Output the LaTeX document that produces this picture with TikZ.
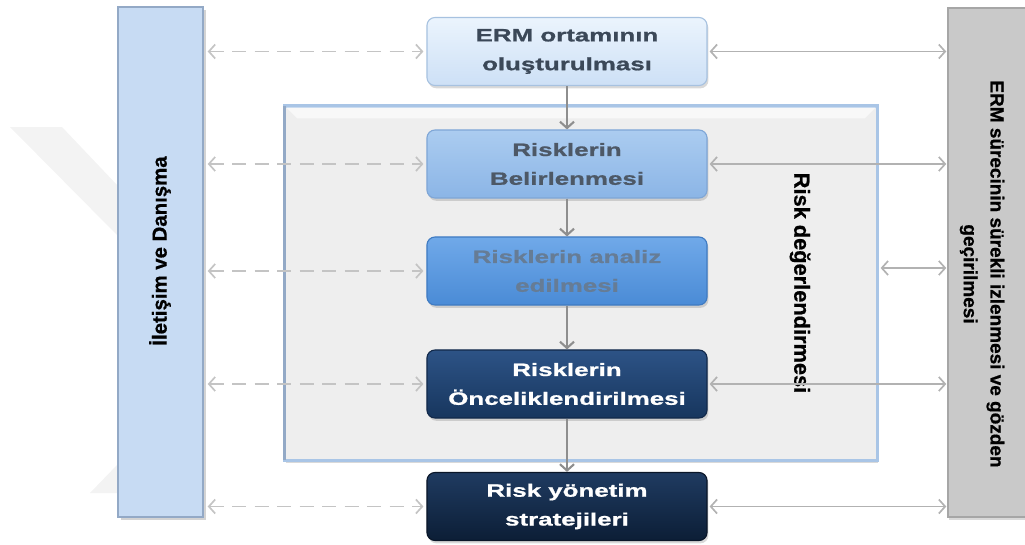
\documentclass[tikz,border=0pt]{standalone}
\usepackage{fontspec}
\setmainfont{Liberation Sans}
\newfontfamily\boxfont[FakeStretch=1.45, BoldFeatures={FakeBold=1}]{Liberation Sans}
\newfontfamily\sidefont[BoldFeatures={FakeBold=0.8}]{Liberation Sans}
\usetikzlibrary{arrows.meta,shadows,calc}
\definecolor{lbarfill}{HTML}{C7DBF3}
\definecolor{lbardraw}{HTML}{93A9C6}
\definecolor{rbarfill}{HTML}{C9C9C9}
\definecolor{rbardraw}{HTML}{A6A6A6}
\definecolor{framefill}{HTML}{EEEEEE}
\definecolor{framedraw}{HTML}{A9C5E6}
\definecolor{bAtop}{HTML}{EBF4FD}
\definecolor{bAbot}{HTML}{CDE0F6}
\definecolor{bAdraw}{HTML}{A7C2E0}
\definecolor{bAtext}{HTML}{3B4858}
\definecolor{bBtop}{HTML}{ABCCF0}
\definecolor{bBbot}{HTML}{8BB5E6}
\definecolor{bBdraw}{HTML}{7FA6D6}
\definecolor{bBtext}{HTML}{4D5866}
\definecolor{bCtop}{HTML}{70A9E9}
\definecolor{bCbot}{HTML}{4A8BD6}
\definecolor{bCdraw}{HTML}{3F7BC2}
\definecolor{bCtext}{HTML}{667C95}
\definecolor{bDtop}{HTML}{2D5386}
\definecolor{bDbot}{HTML}{17365E}
\definecolor{bDdraw}{HTML}{12294A}
\definecolor{bEtop}{HTML}{1F3B61}
\definecolor{bEbot}{HTML}{0C1E36}
\definecolor{bEdraw}{HTML}{0A1628}
\definecolor{dashgray}{HTML}{C4C4C4}
\definecolor{linegray}{HTML}{B2B2B2}
\definecolor{vgray}{HTML}{8E8E8E}
\definecolor{wmark}{HTML}{F3F3F3}
\tikzset{
  stepbox/.style={rounded corners=0.2cm, minimum width=7cm, minimum height=1.7cm,
    align=center, font=\boxfont\bfseries\fontsize{12.7}{20.5}\selectfont, line width=0.8pt,
    drop shadow={shadow xshift=1pt, shadow yshift=-2pt, opacity=0.3}},
  dasharr/.style={dashgray, line width=1.4pt, dash pattern=on 10pt off 6pt,
    {Straight Barb[length=4.5pt,width=10pt,line width=1.2pt]}-{Straight Barb[length=4.5pt,width=10pt,line width=1.2pt]}},
  solarr/.style={linegray, line width=1.2pt,
    {Straight Barb[length=4.5pt,width=10pt]}-{Straight Barb[length=4.5pt,width=10pt]}},
  varr/.style={vgray, line width=1.5pt, -{Straight Barb[length=4.5pt,width=10pt]}},
}
\begin{document}
\begin{tikzpicture}[x=0.025cm,y=-0.025cm]
\useasboundingbox (0,0) rectangle (1025,545);
\clip (0,0) rectangle (1025,545);
% faint watermark
\fill[wmark] (10,127) -- (62,127) -- (118,186) -- (118,236) -- cycle;
\fill[wmark] (90,493) -- (118,464) -- (118,493) -- cycle;
% side bars
\node[draw=lbardraw, fill=lbarfill, line width=1pt, minimum width=2.125cm, minimum height=12.75cm,
  drop shadow={shadow xshift=2pt, shadow yshift=-2pt, opacity=0.35}] (lbar) at (160.5,262) {};
\node[rotate=90, text=black, font=\sidefont\bfseries\fontsize{14.5}{17}\selectfont] (ltext) at (160,251) {İletişim ve Danışma};
\node[draw=rbardraw, fill=rbarfill, line width=1pt, minimum width=2.4cm, minimum height=12.725cm,
  drop shadow={shadow xshift=1pt, shadow yshift=-2pt, opacity=0.3}] (rbar) at (996,262.5) {};
\node[rotate=-90, align=center, text=black, font=\sidefont\bfseries\fontsize{13.5}{19}\selectfont] (rtext) at (982,274)
  {ERM sürecinin sürekli izlenmesi ve gözden\\geçirilmesi};
% risk assessment frame
\node[draw=framedraw, fill=framefill, line width=2.2pt, minimum width=14.8cm, minimum height=8.85cm,
  drop shadow={shadow xshift=1pt, shadow yshift=-2pt, opacity=0.3}] (frame) at (581,283) {};
\fill[white, opacity=0.6] ([shift={(3,3)}]frame.north west) -- ([shift={(-3,3)}]frame.north east)
  -- ([shift={(-14,14)}]frame.north east) -- ([shift={(14,14)}]frame.north west) -- cycle;
\draw[lbardraw, line width=2pt] ([shift={(1,2)}]frame.north west) -- ([shift={(1,-2)}]frame.south west);
\node[rotate=-90, text=black, font=\sidefont\bfseries\fontsize{15.5}{18}\selectfont] (rtitle) at (800,283) {Risk değerlendirmesi};
% step boxes
\node[stepbox, draw=bAdraw, top color=bAtop, bottom color=bAbot, text=bAtext] (b1) at (567,51.5) {ERM ortamının\\oluşturulması};
\node[stepbox, draw=bBdraw, top color=bBtop, bottom color=bBbot, text=bBtext] (b2) at (567,164) {Risklerin\\Belirlenmesi};
\node[stepbox, draw=bCdraw, top color=bCtop, bottom color=bCbot, text=bCtext] (b3) at (567,271) {Risklerin analiz\\edilmesi};
\node[stepbox, draw=bDdraw, top color=bDtop, bottom color=bDbot, text=white] (b4) at (567,384) {Risklerin\\Önceliklendirilmesi};
\node[stepbox, draw=bEdraw, top color=bEtop, bottom color=bEbot, text=white] (b5) at (567,506.5) {Risk yönetim\\stratejileri};
% vertical flow
\draw[varr] (b1) -- (b2);
\draw[varr] (b2) -- (b3);
\draw[varr] (b3) -- (b4);
\draw[varr] (b4) -- (b5);
% left dashed arrows
\foreach \b in {b1,b2,b3,b4,b5}
  \draw[dasharr] ($(lbar.east |- \b.west)+(4,0)$) -- ($(\b.west)+(-3,0)$);
% right solid arrows
\foreach \b in {b1,b2,b4,b5}
  \draw[solarr] ($(\b.east)+(2,0)$) -- ($(rbar.west |- \b.east)+(-1,0)$);
\draw[solarr] ($(frame.east |- b3.east)+(2,-3)$) -- ($(rbar.west |- b3.east)+(-1,-3)$);
\end{tikzpicture}
\end{document}
